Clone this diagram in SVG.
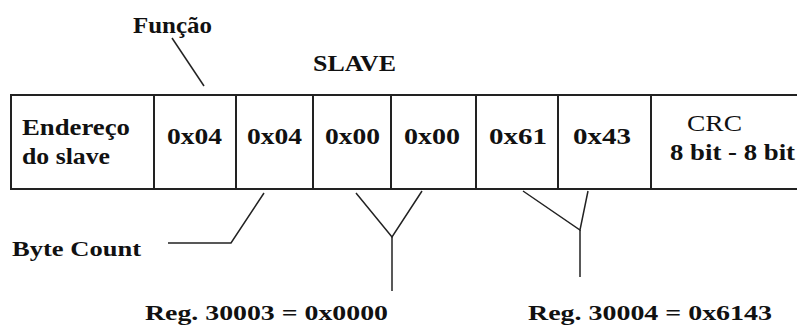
<svg xmlns="http://www.w3.org/2000/svg" width="797" height="326" viewBox="0 0 797 326">
<style>
.t{font-family:"Liberation Serif","Times New Roman","DejaVu Serif",serif;font-weight:bold;fill:#111;font-size:24px}
.n{font-weight:normal}
.s{font-size:22px}
.box{fill:none;stroke:#222;stroke-width:2}
.c{fill:none;stroke:#222;stroke-width:1.5;stroke-linejoin:miter}
</style>
<rect width="797" height="326" fill="#fff"/>
<g id="titles">
<text class="t" x="133" y="33" textLength="79" lengthAdjust="spacingAndGlyphs">Função</text>
<text class="t" x="313" y="71" textLength="83" lengthAdjust="spacingAndGlyphs">SLAVE</text>
</g>
<g id="frame">
<path class="box" d="M797,95 H11 V189 H797"/>
</g>
<g id="f-endereco">
<line class="box" x1="154" y1="95" x2="154" y2="189"/>
<text class="t" x="22" y="135" textLength="108" lengthAdjust="spacingAndGlyphs">Endereço</text>
<text class="t" x="22" y="164" textLength="88" lengthAdjust="spacingAndGlyphs">do slave</text>
</g>
<g id="f-funcao">
<line class="box" x1="236" y1="95" x2="236" y2="189"/>
<text class="t" x="167" y="144" textLength="55" lengthAdjust="spacingAndGlyphs">0x04</text>
</g>
<g id="f-bytecount">
<line class="box" x1="313" y1="95" x2="313" y2="189"/>
<text class="t" x="247" y="144" textLength="55" lengthAdjust="spacingAndGlyphs">0x04</text>
</g>
<g id="f-reg1hi">
<line class="box" x1="391" y1="95" x2="391" y2="189"/>
<text class="t" x="325" y="144" textLength="55" lengthAdjust="spacingAndGlyphs">0x00</text>
</g>
<g id="f-reg1lo">
<line class="box" x1="476" y1="95" x2="476" y2="189"/>
<text class="t" x="404" y="144" textLength="56" lengthAdjust="spacingAndGlyphs">0x00</text>
</g>
<g id="f-reg2hi">
<line class="box" x1="558" y1="95" x2="558" y2="189"/>
<text class="t" x="489" y="144" textLength="58" lengthAdjust="spacingAndGlyphs">0x61</text>
</g>
<g id="f-reg2lo">
<line class="box" x1="651" y1="95" x2="651" y2="189"/>
<text class="t" x="573" y="144" textLength="58" lengthAdjust="spacingAndGlyphs">0x43</text>
</g>
<g id="f-crc">
<text class="t n" x="687" y="131" textLength="55" lengthAdjust="spacingAndGlyphs">CRC</text>
<text class="t" x="670" y="160" textLength="125" lengthAdjust="spacingAndGlyphs">8 bit - 8 bit</text>
</g>
<g id="labels">
<text class="t s" x="12" y="256" textLength="129" lengthAdjust="spacingAndGlyphs">Byte Count</text>
<text class="t s" x="145" y="320" textLength="243" lengthAdjust="spacingAndGlyphs">Reg. 30003 = 0x0000</text>
<text class="t s" x="528" y="320" textLength="244" lengthAdjust="spacingAndGlyphs">Reg. 30004 = 0x6143</text>
</g>
<g id="connectors">
<line class="c" x1="172" y1="38" x2="204" y2="86"/>
<polyline class="c" points="168,243 231,243 264,193"/>
<polyline class="c" points="356,193 392,237 422,191"/>
<line class="c" x1="392" y1="237" x2="392" y2="291"/>
<polyline class="c" points="523,191 580,230 588,191"/>
<line class="c" x1="580" y1="230" x2="580" y2="277"/>
</g>
</svg>
